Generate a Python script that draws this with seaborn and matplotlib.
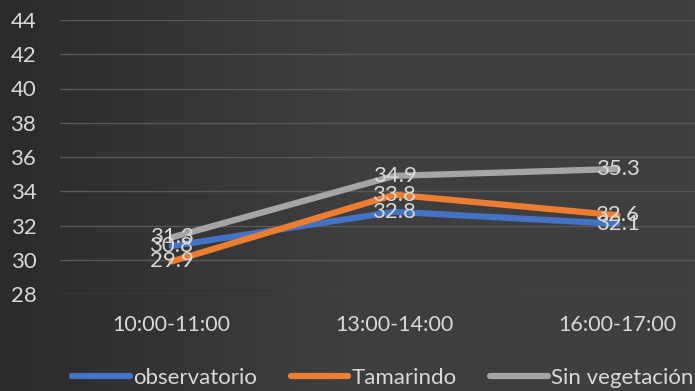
import numpy as np
import pandas as pd
import seaborn as sns
import matplotlib.pyplot as plt

# Datos
horarios = ["10:00-11:00", "13:00-14:00", "16:00-17:00"]
observatorio = [30.8, 32.8, 32.1]
tamarindo = [29.9, 33.8, 32.6]
sin_vegetacion = [31.3, 34.9, 35.3]
series = ["observatorio", "Tamarindo", "Sin vegetación"]
colores = ["#4472C4", "#ED7D31", "#A5A5A5"]

df = pd.DataFrame({
    "horario": horarios * 3,
    "x": list(range(len(horarios))) * 3,
    "temp": observatorio + tamarindo + sin_vegetacion,
    "serie": [s for s in series for _ in horarios],
})

sns.set_style("dark")
plt.rcParams["font.family"] = ["Lato", "DejaVu Sans"]
texto = "#d9d9d9"

fig = plt.figure(figsize=(6.95, 3.91), dpi=100)

# fondo con degradado
bg = fig.add_axes([0, 0, 1, 1])
grad = np.linspace(0, 1, 256).reshape(1, -1)
bg.imshow(grad, aspect="auto", cmap=plt.matplotlib.colors.LinearSegmentedColormap.from_list(
    "g", ["#2b2b2b", "#3e3e3e", "#404040"]), extent=[0, 1, 0, 1])
bg.axis("off")

ax = fig.add_axes([60 / 695, 1 - 294 / 391, 669 / 695, 274 / 391])
ax.set_facecolor("none")

sns.lineplot(data=df, x="x", y="temp", hue="serie", palette=colores,
             hue_order=series, linewidth=4.5, ax=ax, legend=False,
             solid_capstyle="round")

for _, fila in df.iterrows():
    ax.text(fila["x"], fila["temp"], f"{fila['temp']:.1f}", color=texto,
            fontsize=16, ha="center", va="center")

ax.set_xlim(-0.5, 2.5)
ax.set_ylim(28, 44)
ax.set_yticks(range(28, 45, 2))
ax.set_xticks(range(len(horarios)))
ax.set_xticklabels(horarios)
ax.tick_params(colors=texto, labelsize=15.5, length=0)
ax.tick_params(axis="x", pad=15)
ax.tick_params(axis="y", pad=17, labelsize=16)
ax.grid(axis="y", color="#585858", linewidth=1)
ax.grid(axis="x", visible=False)
for s in ax.spines.values():
    s.set_visible(False)
ax.set_xlabel("")
ax.set_ylabel("")

handles = [plt.Line2D([0], [0], color=c, linewidth=4.5, solid_capstyle="round") for c in colores]
fig.legend(handles, series, loc="center", bbox_to_anchor=(0.551, 0.033), ncol=3,
           frameon=False, fontsize=16, labelcolor=texto, handlelength=2.6,
           handletextpad=0.15, columnspacing=1.5)

fig.savefig("out.png", dpi=100)
